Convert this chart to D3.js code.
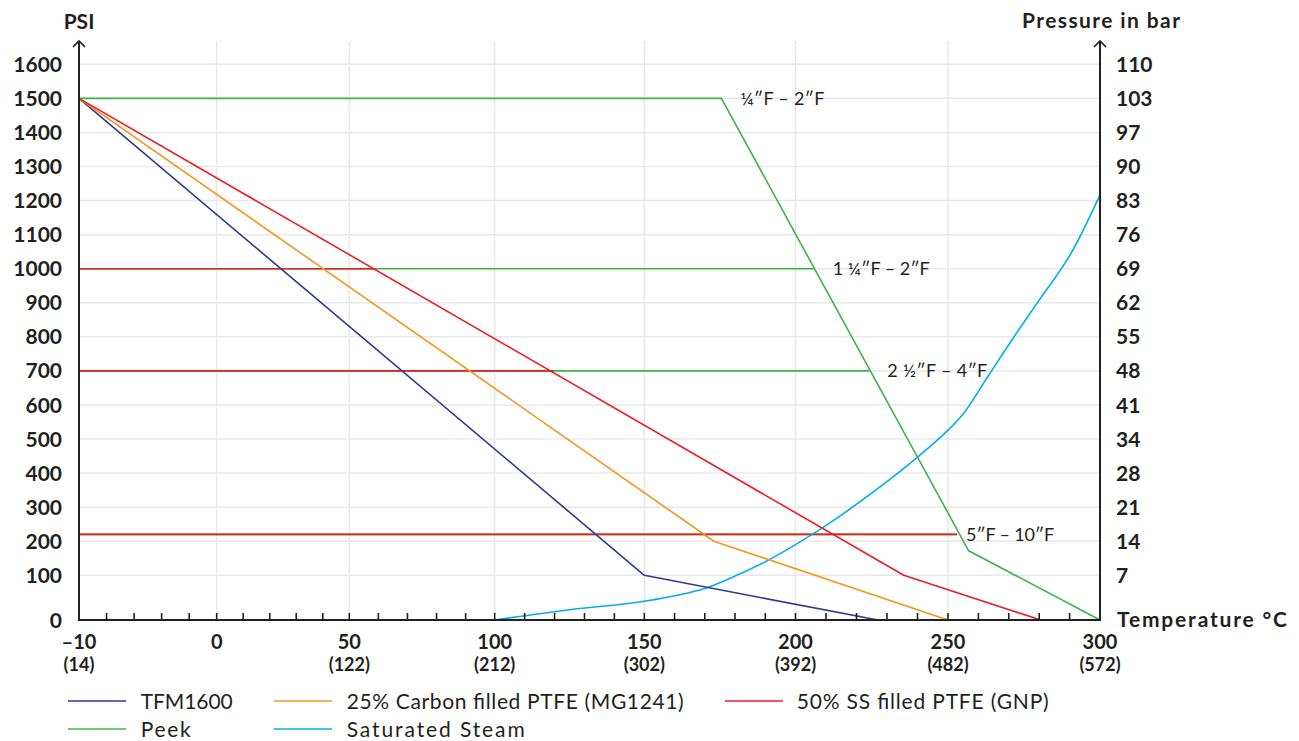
<!DOCTYPE html>
<html>
<head>
<meta charset="utf-8">
<script src="https://cdn.jsdelivr.net/npm/d3@7/dist/d3.min.js"></script>
<style>
  html, body { margin: 0; padding: 0; background: #ffffff; }
  svg { display: block; font-family: Lato, "Open Sans", sans-serif; }
</style>
</head>
<body>
<svg id="chart" width="1299" height="741"></svg>
<script>
// ---------------- DATA ----------------
const tempMajorTicks = [-10, 0, 50, 100, 150, 200, 250, 300];
const tempLabels = ["–10", "0", "50", "100", "150", "200", "250", "300"];
const fahrenheitLabels = ["(14)", "", "(122)", "(212)", "(302)", "(392)", "(482)", "(572)"];
const tempMinorTicks = [-8, -6, -4, -2,
  10, 20, 30, 40, 60, 70, 80, 90, 110, 120, 130, 140, 160, 170, 180, 190,
  210, 220, 230, 240, 260, 270, 280, 290];
const psiTicks = [0, 100, 200, 300, 400, 500, 600, 700, 800, 900, 1000, 1100, 1200, 1300, 1400, 1500, 1600];
const barLabels = ["", "7", "14", "21", "28", "34", "41", "48", "55", "62", "69", "76", "83", "90", "97", "103", "110"];

const tfm1600 = [[-10, 1500], [150, 100], [227, 0]];
const carbonPTFE = [[-10, 1500], [173, 200], [250, 0]];
const ssPTFE = [[-10, 1500], [235.5, 100], [280.5, 0]];
const peek = [[-10, 1500], [175.5, 1500], [256.8, 172], [300, 0]];
const steam = [[100, 0], [125, 23], [150, 42], [164, 60], [168.4, 67], [179.3, 96], [190.5, 142],
  [201.5, 198], [213.6, 268], [225.4, 344], [240.8, 453], [250, 526], [254.9, 573], [262.8, 679],
  [271.4, 796], [279.3, 899], [291.1, 1055], [300, 1217]];

// size limit lines: psi level, Peek limit end (°C), 50% SS limit end (°C)
const sizeLabels = ["¼″F – 2″F", "1 ¼″F – 2″F", "2 ½″F – 4″F", "5″F – 10″F"];
const sizePsi = [1500, 1000, 700, 220];
const sizePeekEnd = [175.5, 206, 224.2, 253];
const sizeSSEnd = [null, 59.2, 119.6, 253];

const legendNames = ["TFM1600", "25% Carbon filled PTFE (MG1241)", "50% SS filled PTFE (GNP)", "Peek", "Saturated Steam"];

(function () {
// ---------------- STYLE / LAYOUT ----------------
const C = {
  blue: "#2e3a8f", orange: "#f7941d", red: "#ed1c24", green: "#3cb54a", cyan: "#00aeef",
  grid: "#e8e8e8", axis: "#231f20", text: "#231f20"
};
const legendColors = [C.blue, C.orange, C.red, C.green, C.cyan];
const legendWidths = [92, 337, 252, 50, 178];
const sizeLabelWidths = [84, 97, 100, 88];

const svg = d3.select("#chart");

// piecewise scales matching the drawing
const x = d3.scaleLinear()
  .domain([-10, 0, 50, 100, 150, 200, 250, 300])
  .range([79, 216.7, 349.3, 494.7, 644.3, 795.5, 948, 1100]);
const y = d3.scaleLinear()
  .domain([0, 100, 1600])
  .range([620, 575.3, 64.3]);

const pLeft = x(-10), pRight = x(300), pBottom = y(0), pTop = 41;

// grid
const g = svg.append("g");
g.selectAll("line.h").data(psiTicks.filter(d => d > 0)).join("line")
  .attr("x1", pLeft).attr("x2", pRight)
  .attr("y1", d => y(d)).attr("y2", d => y(d))
  .attr("stroke", C.grid).attr("stroke-width", 1.5);
g.selectAll("line.v").data(tempMajorTicks.filter(d => d > -10 && d < 300)).join("line")
  .attr("x1", d => x(d)).attr("x2", d => x(d))
  .attr("y1", pTop).attr("y2", pBottom)
  .attr("stroke", C.grid).attr("stroke-width", 1.5);

const line = d3.line().x(d => x(d[0])).y(d => y(d[1]));

// size-limit horizontal lines (green = Peek, red = 50% SS)
sizePsi.forEach((p, i) => {
  if (i === 0) return;
  svg.append("path").attr("d", line([[-10, p], [sizePeekEnd[i], p]]))
    .attr("fill", "none").attr("stroke", C.green).attr("stroke-width", 1.6);
});
sizePsi.forEach((p, i) => {
  if (sizeSSEnd[i] == null) return;
  svg.append("path").attr("d", line([[-10, p], [sizeSSEnd[i], p]]))
    .attr("fill", "none").attr("stroke", C.red).attr("stroke-width", 1.6);
});

// series
const seriesList = [
  { d: steam, c: C.cyan, curve: d3.curveMonotoneX },
  { d: tfm1600, c: C.blue },
  { d: carbonPTFE, c: C.orange },
  { d: ssPTFE, c: C.red },
  { d: peek, c: C.green }
];
seriesList.forEach(s => {
  const l = d3.line().x(d => x(d[0])).y(d => y(d[1])).curve(s.curve || d3.curveLinear);
  svg.append("path").attr("d", l(s.d))
    .attr("fill", "none").attr("stroke", s.c).attr("stroke-width", 1.6)
    .attr("stroke-linejoin", "round");
});

// size labels
const labelOffsets = [19, 19, 18, 9];
sizeLabels.forEach((t, i) => {
  svg.append("text")
    .attr("x", x(sizePeekEnd[i]) + labelOffsets[i])
    .attr("y", y(sizePsi[i]))
    .attr("dy", "0.35em")
    .attr("font-size", 18).attr("font-weight", 400)
    .attr("textLength", sizeLabelWidths[i]).attr("lengthAdjust", "spacing")
    .attr("fill", C.text).text(t);
});

// axes lines
const ax = svg.append("g").attr("stroke", C.axis).attr("stroke-width", 2).attr("fill", "none");
ax.append("line").attr("x1", pLeft).attr("x2", pLeft).attr("y1", pTop).attr("y2", pBottom + 1);
ax.append("line").attr("x1", pRight).attr("x2", pRight).attr("y1", pTop).attr("y2", pBottom + 1);
ax.append("line").attr("x1", pLeft - 1).attr("x2", pRight + 1).attr("y1", pBottom).attr("y2", pBottom);
[pLeft, pRight].forEach(ax0 => {
  ax.append("path").attr("d", `M${ax0 - 6},${pTop + 6}L${ax0},${pTop}L${ax0 + 6},${pTop + 6}`)
    .attr("stroke-width", 1.6);
});
// ticks on x-axis
const allTicks = tempMajorTicks.filter(d => d > -10 && d < 300).concat(tempMinorTicks);
ax.selectAll("line.t").data(allTicks).join("line")
  .attr("x1", d => x(d)).attr("x2", d => x(d))
  .attr("y1", pBottom - 7).attr("y2", pBottom)
  .attr("stroke-width", 1.6);

// left axis labels
svg.append("g").selectAll("text").data(psiTicks).join("text")
  .attr("x", 62).attr("y", d => y(d)).attr("dy", "0.36em")
  .attr("text-anchor", "end").attr("font-size", 21).attr("font-weight", 700)
  .attr("fill", C.text).text(d => d);
// right axis labels
svg.append("g").selectAll("text").data(psiTicks).join("text")
  .attr("x", 1116).attr("y", d => y(d)).attr("dy", "0.36em")
  .attr("text-anchor", "start").attr("font-size", 21).attr("font-weight", 700)
  .attr("fill", C.text).text((d, i) => barLabels[i]);
// x labels
svg.append("g").selectAll("text").data(tempMajorTicks).join("text")
  .attr("x", d => x(d)).attr("y", 642).attr("dy", "0.36em")
  .attr("text-anchor", "middle").attr("font-size", 20).attr("font-weight", 700)
  .attr("fill", C.text).text((d, i) => tempLabels[i]);
svg.append("g").selectAll("text").data(tempMajorTicks).join("text")
  .attr("x", d => x(d)).attr("y", 665).attr("dy", "0.36em")
  .attr("text-anchor", "middle").attr("font-size", 18).attr("font-weight", 700)
  .attr("fill", C.text).text((d, i) => fahrenheitLabels[i]);

// axis titles
svg.append("text").attr("x", 79).attr("y", 21).attr("dy", "0.36em")
  .attr("text-anchor", "middle").attr("font-size", 21).attr("font-weight", 700)
  .attr("fill", C.text).text("PSI");
svg.append("text").attr("x", 1022).attr("y", 20).attr("dy", "0.36em")
  .attr("text-anchor", "start").attr("font-size", 21).attr("font-weight", 700)
  .attr("textLength", 158).attr("lengthAdjust", "spacing")
  .attr("fill", C.text).text("Pressure in bar");
svg.append("text").attr("x", 1117).attr("y", 619).attr("dy", "0.36em")
  .attr("text-anchor", "start").attr("font-size", 21).attr("font-weight", 700)
  .attr("textLength", 170).attr("lengthAdjust", "spacing")
  .attr("fill", C.text).text("Temperature °C");

// legend
const legendCols = [[68, 140.7], [274, 346.7], [725, 796.7]];
const legendRows = [701, 729];
legendNames.forEach((n, i) => {
  const col = i % 3, row = Math.floor(i / 3);
  const [lx, tx] = legendCols[col];
  const ly = legendRows[row];
  svg.append("line").attr("x1", lx).attr("x2", lx + 58).attr("y1", ly).attr("y2", ly)
    .attr("stroke", legendColors[i]).attr("stroke-width", 1.6);
  svg.append("text").attr("x", tx).attr("y", ly).attr("dy", "0.36em")
    .attr("font-size", 21).attr("font-weight", 400)
    .attr("textLength", legendWidths[i]).attr("lengthAdjust", "spacing")
    .attr("fill", C.text).text(n);
});
})();
</script>
</body>
</html>
